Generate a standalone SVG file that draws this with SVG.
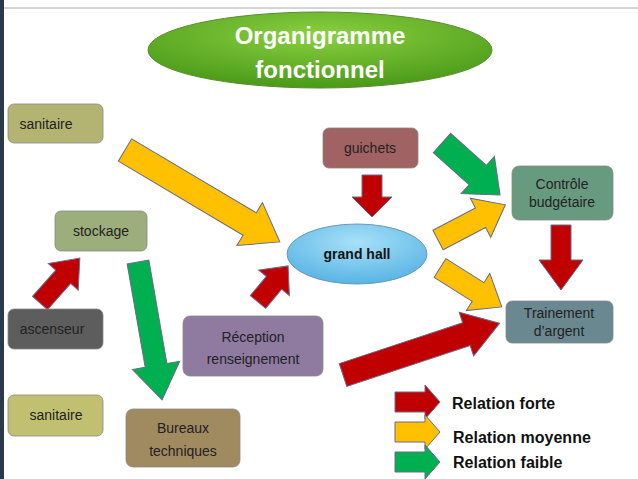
<svg xmlns="http://www.w3.org/2000/svg" width="638" height="479" viewBox="0 0 638 479">
<defs>
<style>
text{font-family:"Liberation Sans",Arial,sans-serif;text-anchor:middle}
.n{stroke:#888;stroke-width:0.8}
.t{font-size:14px;fill:#222}
.r{fill:#c00000;stroke:#6a6a8a;stroke-width:1}
.y{fill:#ffc000;stroke:#6a6a8a;stroke-width:1}
.g{fill:#00b050;stroke:#6a6a8a;stroke-width:1}
.lg{font-size:16px;font-weight:bold;fill:#111;text-anchor:start}
</style>
<radialGradient id="gt" cx="0.5" cy="0.3" r="0.7"><stop offset="0" stop-color="#8ad040"/><stop offset="1" stop-color="#4a9a18"/></radialGradient>
<radialGradient id="gh" cx="0.5" cy="0.3" r="0.7"><stop offset="0" stop-color="#a8e0f8"/><stop offset="1" stop-color="#58b4e4"/></radialGradient>
</defs>
<rect width="638" height="479" fill="#fff"/>
<line x1="0" y1="8" x2="638" y2="8" stroke="#aaa"/>
<rect x="0" y="0" width="4" height="479" fill="#2a3a4a"/>
<g id="title"><ellipse cx="320" cy="50" rx="172" ry="38" fill="url(#gt)" stroke="#5a8a30"/>
<text x="320" y="44" font-size="24" font-weight="bold" fill="#fff">Organigramme</text>
<text x="320" y="78" font-size="24" font-weight="bold" fill="#fff">fonctionnel</text></g>
<g id="connectors">
<polygon class="y" transform="translate(125,150) rotate(30.7)" points="0,-13 145,-13 145,-25 180,0 145,25 145,13 0,13"/>
<polygon class="r" transform="translate(372,175) rotate(90)" points="0,-10 22,-10 22,-20 42,0 22,20 22,10 0,10"/>
<polygon class="g" transform="translate(442,143) rotate(41.9)" points="0,-13 48,-13 48,-25 78,0 48,25 48,13 0,13"/>
<polygon class="y" transform="translate(438,240) rotate(-27.6)" points="0,-11 48,-11 48,-22 76,0 48,22 48,11 0,11"/>
<polygon class="y" transform="translate(440,268) rotate(32.2)" points="0,-11 45,-11 45,-22 73,0 45,22 45,11 0,11"/>
<polygon class="r" transform="translate(561,225) rotate(90)" points="0,-10 35,-10 35,-22 65,0 35,22 35,10 0,10"/>
<polygon class="r" transform="translate(40,303) rotate(-48.4)" points="0,-10 35,-10 35,-20 60,0 35,20 35,10 0,10"/>
<polygon class="g" transform="translate(138,262) rotate(80.1)" points="0,-11 105,-11 105,-24 140,0 105,24 105,11 0,11"/>
<polygon class="r" transform="translate(258,302) rotate(-50.2)" points="0,-10 25,-10 25,-20 47,0 25,20 25,10 0,10"/>
<polygon class="r" transform="translate(343,375) rotate(-18.3)" points="0,-12 130,-12 130,-23 165,0 130,23 130,12 0,12"/>
</g>
<g id="legend">
<polygon class="r" transform="translate(395,402)" points="0,-10 30,-10 30,-17 45,0 30,17 30,10 0,10"/>
<polygon class="y" transform="translate(395,432)" points="0,-10 30,-10 30,-17 45,0 30,17 30,10 0,10"/>
<polygon class="g" transform="translate(395,462)" points="0,-10 30,-10 30,-17 45,0 30,17 30,10 0,10"/>
<text class="lg" x="452" y="409">Relation forte</text>
<text class="lg" x="453" y="443">Relation moyenne</text>
<text class="lg" x="453" y="468">Relation faible</text>
</g>
<g id="sanitaire1"><rect class="n" x="8" y="104" width="95" height="39" rx="6" fill="#b4b472"/><text class="t" x="46" y="129">sanitaire</text></g>
<g id="stockage"><rect class="n" x="55" y="211" width="92" height="40" rx="6" fill="#9cae7c"/><text class="t" x="101" y="236">stockage</text></g>
<g id="ascenseur"><rect class="n" x="8" y="309" width="95" height="40" rx="6" fill="#5d5d5d"/><text class="t" x="52" y="334">ascenseur</text></g>
<g id="sanitaire2"><rect class="n" x="8" y="395" width="95" height="41" rx="6" fill="#c0c070"/><text class="t" x="56" y="420">sanitaire</text></g>
<g id="bureaux"><rect class="n" x="126" y="409" width="114" height="58" rx="7" fill="#a08a60"/><text class="t" x="183" y="433">Bureaux</text><text class="t" x="183" y="456">techniques</text></g>
<g id="reception"><rect class="n" x="183" y="316" width="140" height="60" rx="7" fill="#8f7aa0"/><text class="t" x="253" y="342">Réception</text><text class="t" x="253" y="364">renseignement</text></g>
<g id="guichets"><rect class="n" x="323" y="128" width="95" height="40" rx="6" fill="#a06262"/><text class="t" x="370" y="153">guichets</text></g>
<g id="controle"><rect class="n" x="512" y="166" width="101" height="54" rx="7" fill="#689a80"/><text class="t" x="562" y="189">Contrôle</text><text class="t" x="562" y="207">budgétaire</text></g>
<g id="trainement"><rect class="n" x="506" y="301" width="107" height="42" rx="6" fill="#6a8890"/><text class="t" x="559" y="318">Trainement</text><text class="t" x="559" y="336">d’argent</text></g>
<g id="grandhall"><ellipse cx="357" cy="254" rx="70" ry="30" fill="url(#gh)" stroke="#6a9ab8"/><text x="357" y="259" font-size="14" font-weight="bold" fill="#111">grand hall</text></g>
</svg>
